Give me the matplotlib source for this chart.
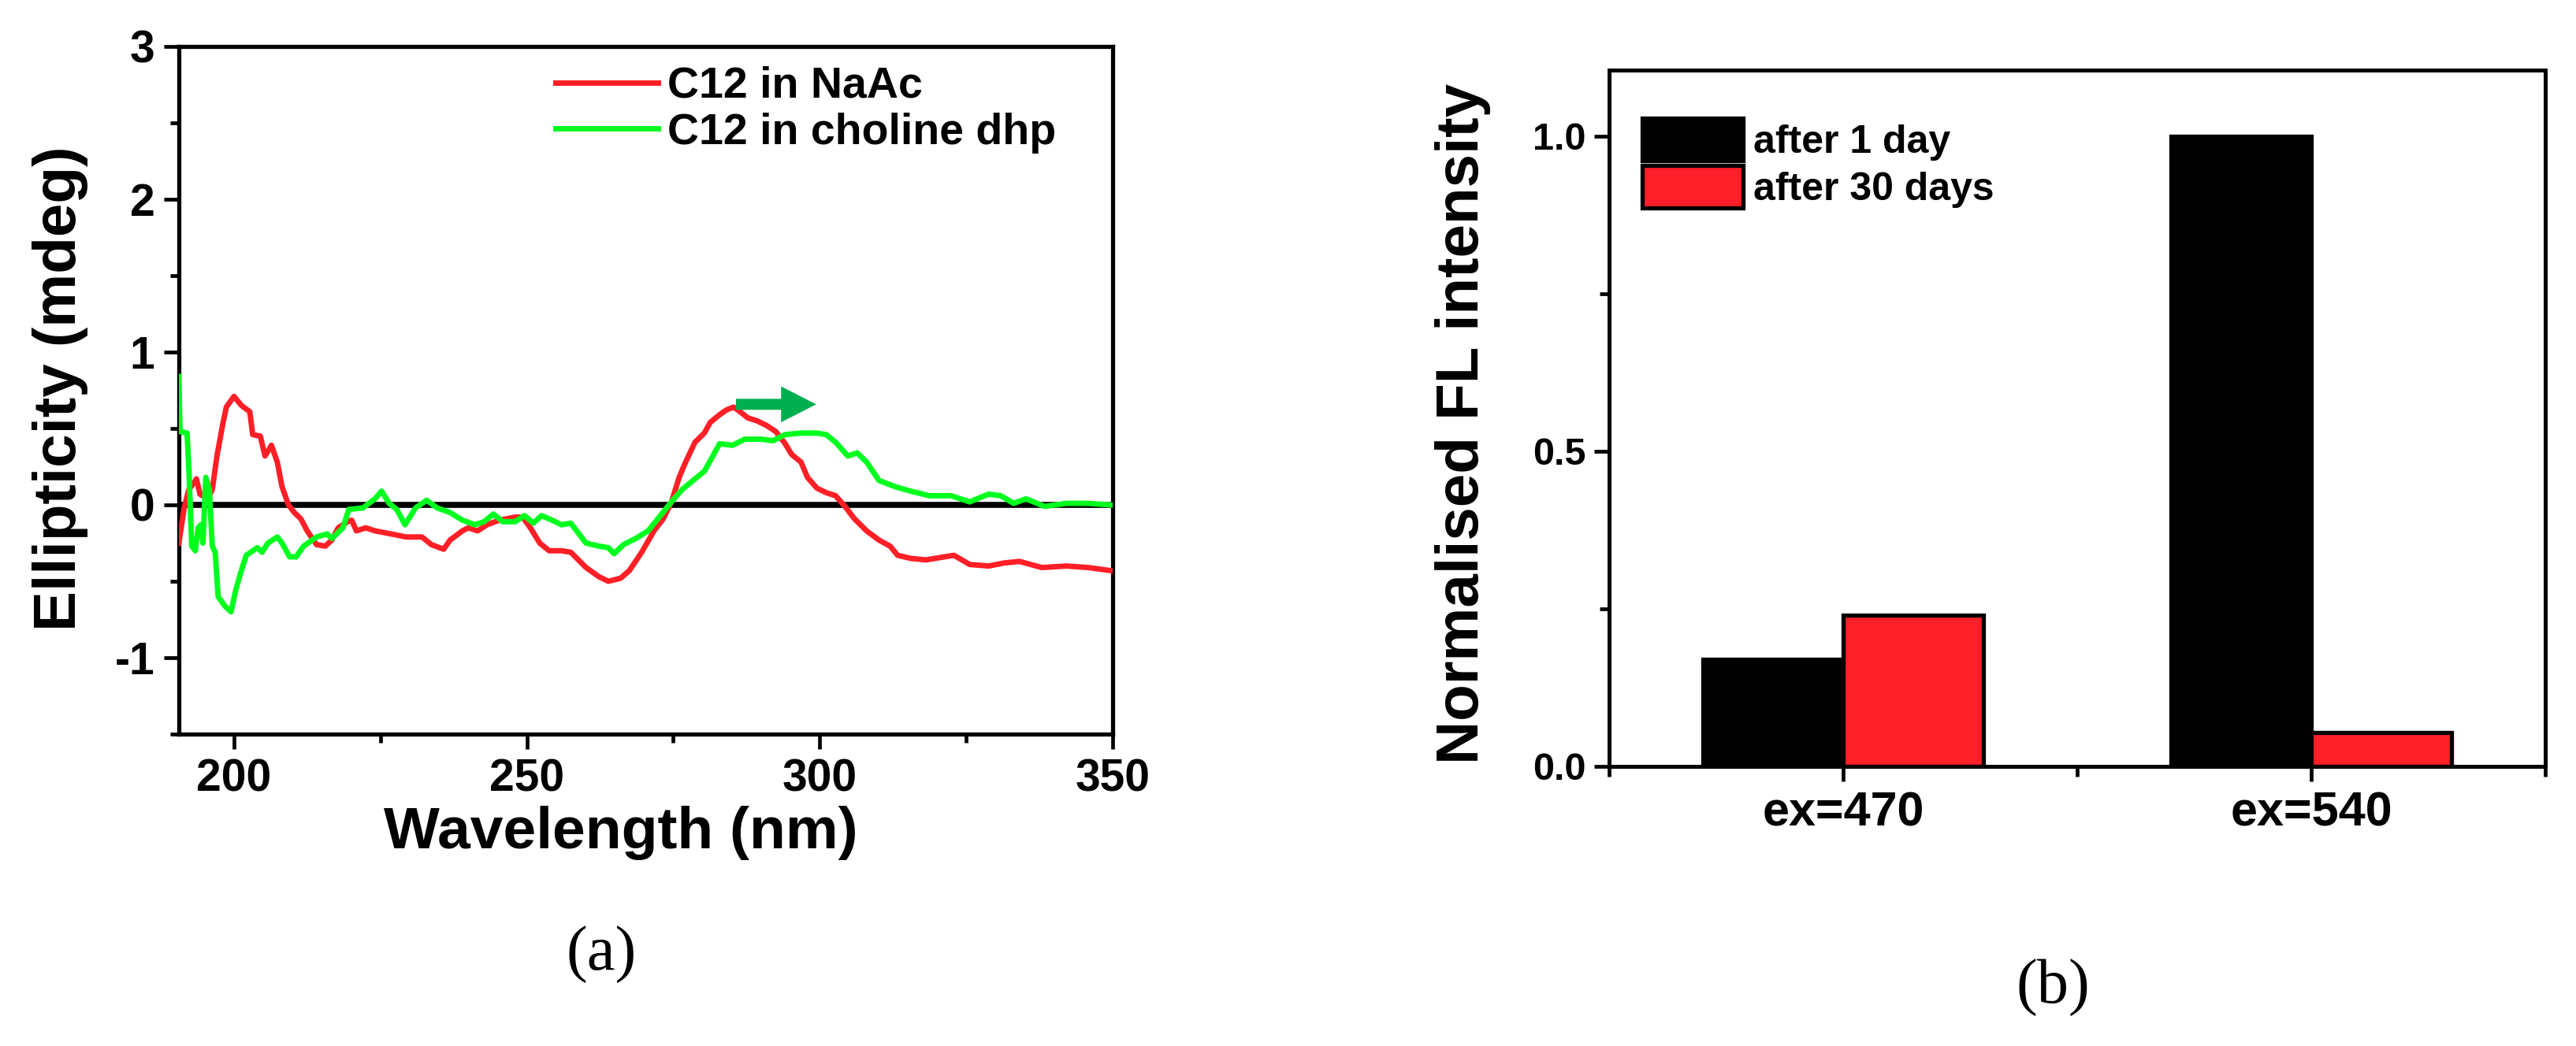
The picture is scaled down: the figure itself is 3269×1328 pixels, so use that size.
import numpy as np
import matplotlib
matplotlib.use("Agg")
import matplotlib.pyplot as plt
from matplotlib.ticker import MultipleLocator

plt.rcParams['font.family'] = ['Liberation Sans', 'DejaVu Sans']
plt.rcParams['font.weight'] = 'bold'
plt.rcParams['axes.unicode_minus'] = False

# ---------------- data: panel (a) ----------------
wl_red = [190.6, 191.5, 192.3, 193.1, 193.6, 194.2, 195.5, 196.3, 197.1, 198.1, 198.7, 200.0,
          201.3, 202.7, 203.2, 204.5, 205.3, 206.4, 207.4, 208.2, 209.3, 210.3, 211.4, 212.5,
          214.1, 215.6, 216.7, 217.8, 219.4, 220.1, 220.9, 222.5, 224.1, 226.8, 229.4, 232.1,
          233.7, 235.8, 236.9, 239.0, 240.0, 241.6, 243.2, 245.3, 248.0, 249.3, 250.6, 252.2,
          253.8, 255.9, 257.5, 260.1, 262.3, 263.9, 266.0, 267.5, 269.6, 271.7, 273.3, 274.7,
          276.0, 277.1, 278.7, 280.3, 281.3, 282.9, 284.0, 285.3, 286.4, 287.7, 289.3, 290.9,
          292.5, 294.1, 295.2, 296.8, 297.9, 299.5, 301.1, 302.7, 304.3, 305.9, 308.0, 310.1,
          312.0, 313.3, 315.5, 318.1, 319.7, 322.9, 325.6, 328.8, 331.5, 334.1, 337.9, 342.1,
          345.8, 349.6]
val_red = [-0.25, -0.02, 0.10, 0.14, 0.17, 0.07, 0.04, 0.10, 0.32, 0.53, 0.64, 0.71,
           0.65, 0.61, 0.46, 0.45, 0.32, 0.39, 0.28, 0.12, 0.00, -0.05, -0.09, -0.17,
           -0.26, -0.27, -0.23, -0.15, -0.11, -0.10, -0.17, -0.15, -0.17, -0.19, -0.21, -0.21,
           -0.26, -0.29, -0.23, -0.17, -0.15, -0.17, -0.13, -0.10, -0.08, -0.08, -0.15, -0.25,
           -0.30, -0.30, -0.31, -0.41, -0.47, -0.50, -0.48, -0.43, -0.31, -0.17, -0.09, 0.02,
           0.18, 0.28, 0.41, 0.47, 0.54, 0.59, 0.62, 0.64, 0.61, 0.57, 0.55, 0.52,
           0.48, 0.40, 0.33, 0.28, 0.18, 0.11, 0.08, 0.06, -0.01, -0.09, -0.17, -0.23,
           -0.27, -0.33, -0.35, -0.36, -0.35, -0.33, -0.39, -0.40, -0.38, -0.37, -0.41, -0.40,
           -0.41, -0.43]

wl_green = [190.6, 190.8, 192.0, 192.3, 192.8, 193.4, 193.9, 194.4, 194.7, 195.2, 195.8, 196.3,
            196.8, 197.3, 198.4, 199.5, 200.3, 201.1, 202.1, 204.0, 204.8, 205.8, 207.4, 208.2,
            209.5, 210.6, 211.9, 214.1, 215.9, 216.7, 218.6, 219.6, 222.0, 224.1, 225.2, 226.5,
            227.8, 229.2, 231.0, 232.9, 234.7, 236.9, 239.0, 241.1, 242.7, 244.3, 245.9, 248.0,
            249.6, 251.1, 252.5, 254.3, 255.9, 257.5, 260.1, 262.3, 263.9, 264.9, 266.5, 268.6,
            270.7, 272.8, 274.9, 276.5, 278.7, 280.3, 281.9, 282.9, 285.1, 287.2, 289.9, 292.0,
            294.1, 296.8, 299.5, 301.1, 302.7, 304.8, 306.4, 308.0, 310.1, 312.8, 315.5, 318.7,
            322.4, 325.6, 328.8, 330.9, 333.1, 335.2, 338.4, 342.1, 345.8, 349.6]
val_green = [0.84, 0.48, 0.47, 0.24, -0.27, -0.30, -0.15, -0.13, -0.25, 0.18, 0.10, -0.27,
             -0.31, -0.60, -0.66, -0.70, -0.56, -0.45, -0.33, -0.28, -0.31, -0.25, -0.21, -0.25,
             -0.34, -0.34, -0.27, -0.21, -0.19, -0.22, -0.15, -0.03, -0.02, 0.04, 0.09, 0.01,
             -0.03, -0.13, -0.02, 0.03, -0.02, -0.05, -0.10, -0.13, -0.11, -0.06, -0.11, -0.11,
             -0.07, -0.12, -0.07, -0.10, -0.13, -0.12, -0.25, -0.27, -0.28, -0.32, -0.26, -0.22,
             -0.17, -0.07, 0.03, 0.10, 0.17, 0.22, 0.33, 0.40, 0.39, 0.43, 0.43, 0.42,
             0.46, 0.47, 0.47, 0.46, 0.41, 0.32, 0.34, 0.28, 0.16, 0.12, 0.09, 0.06,
             0.06, 0.02, 0.07, 0.06, 0.01, 0.04, -0.01, 0.01, 0.01, 0.00]

series_a = ['C12 in NaAc', 'C12 in choline dhp']
arrow_start = [285.7, 0.658]
arrow_end = [299.4, 0.658]

# ---------------- data: panel (b) ----------------
categories = ['ex=470', 'ex=540']
after_1_day = [0.17, 1.00]
after_30_days = [0.24, 0.054]
series_b = ['after 1 day', 'after 30 days']

# ---------------- figure ----------------
W, H = 3269, 1328
fig = plt.figure(figsize=(W / 100, H / 100), dpi=100)

def rect(l, t, r, b):
    return [l / W, 1 - b / H, (r - l) / W, (b - t) / H]

RED = '#FF1F26'
GREEN = '#00FF1E'

# ----- panel (a) -----
ax1 = fig.add_axes(rect(227, 59, 1412, 932))
ax1.axhline(0, color='black', lw=5.5, zorder=1)
ax1.plot(wl_red, val_red, color=RED, lw=5, label=series_a[0], zorder=3)
ax1.plot(wl_green, val_green, color=GREEN, lw=5, label=series_a[1], zorder=4)
ax1.arrow(arrow_start[0], arrow_start[1], arrow_end[0] - arrow_start[0], 0,
          width=0.072, head_width=0.235, head_length=6.0, length_includes_head=True,
          color='#00AF50', lw=0, zorder=5)
ax1.set_xlim(190.6, 350)
ax1.set_ylim(-1.5, 3)
ax1.xaxis.set_major_locator(MultipleLocator(50))
ax1.xaxis.set_minor_locator(MultipleLocator(25))
ax1.yaxis.set_major_locator(MultipleLocator(1))
ax1.yaxis.set_minor_locator(MultipleLocator(0.5))
for s in ax1.spines.values():
    s.set_linewidth(3.8)
ax1.tick_params(which='both', direction='out', width=3.4, top=False, right=False)
ax1.tick_params(which='major', length=14, labelsize=41, pad=8)
ax1.tick_params(which='minor', length=8)
for lab in ax1.get_xticklabels() + ax1.get_yticklabels():
    lab.set_fontweight('bold')
leg1 = ax1.legend(loc='upper left', bbox_to_anchor=(705 / W, 1 - 84 / H),
                  bbox_transform=fig.transFigure, frameon=False, fontsize=40,
                  handlelength=2.34, handletextpad=0.22, labelspacing=0.12,
                  borderpad=0, borderaxespad=0)
for t in leg1.get_texts():
    t.set_fontweight('bold')

fig.text(77 / W, 1 - 493 / H, 'Ellipticity (mdeg)', rotation=90, ha='center', va='center',
         fontsize=55, fontweight='bold')
fig.text(788 / W, 1 - 1058 / H, 'Wavelength (nm)', ha='center', va='center',
         fontsize=54, fontweight='bold')

# ----- panel (b) -----
ax2 = fig.add_axes(rect(2042, 89, 3230, 973))
x = np.arange(len(categories))
bw = 0.3
ax2.bar(x - bw / 2, after_1_day, bw, color='black', edgecolor='black', lw=3.8,
        label=series_b[0], zorder=2)
ax2.bar(x + bw / 2, after_30_days, bw, color='#FF1F28', edgecolor='black', lw=3.8,
        label=series_b[1], zorder=2)
ax2.set_xlim(-0.5, 1.5)
ax2.set_ylim(0, 1.105)
ax2.set_xticks(x)
ax2.set_xticklabels(categories)
ax2.set_xticks([-0.5, 0.5, 1.5], minor=True)
ax2.yaxis.set_major_locator(MultipleLocator(0.5))
ax2.yaxis.set_minor_locator(MultipleLocator(0.25))
ax2.yaxis.set_major_formatter(matplotlib.ticker.FormatStrFormatter('%.1f'))
for s in ax2.spines.values():
    s.set_linewidth(3.6)
    s.set_zorder(3)
ax2.tick_params(which='both', direction='out', width=3.4, top=False, right=False)
ax2.tick_params(axis='y', which='major', length=14, labelsize=35, pad=7)
ax2.tick_params(axis='x', which='major', length=14, labelsize=44, pad=9)
ax2.tick_params(which='minor', length=9)
for lab in ax2.get_xticklabels() + ax2.get_yticklabels():
    lab.set_fontweight('bold')
leg2 = ax2.legend(loc='upper left', bbox_to_anchor=(2084 / W, 1 - 150 / H),
                  bbox_transform=fig.transFigure, frameon=False, fontsize=36,
                  handlelength=2.55, handleheight=1.28, handletextpad=0.27,
                  labelspacing=0.12, borderpad=0, borderaxespad=0)
for t in leg2.get_texts():
    t.set_fontweight('bold')

fig.text(1857 / W, 1 - 538 / H, 'Normalised FL intensity', rotation=90, ha='center',
         va='center', fontsize=55, fontweight='bold')

# panel tags
fig.text(763 / W, 1 - 1212 / H, '(a)', ha='center', va='center', fontsize=58,
         family='Liberation Serif', fontweight='normal')
fig.text(2605 / W, 1 - 1254 / H, '(b)', ha='center', va='center', fontsize=58,
         family='Liberation Serif', fontweight='normal')

fig.savefig('out.png', dpi=100, facecolor='white')
